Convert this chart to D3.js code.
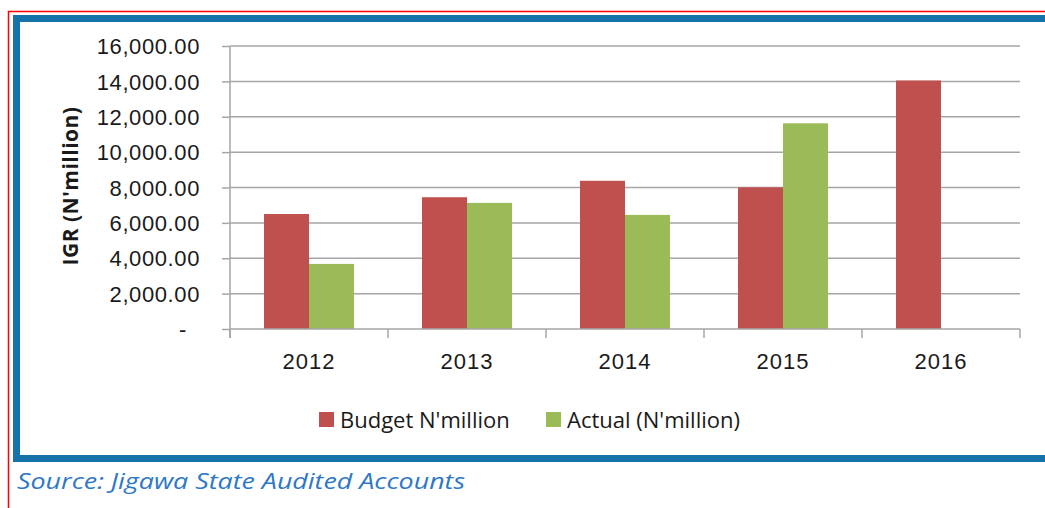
<!DOCTYPE html>
<html>
<head>
<meta charset="utf-8">
<script src="https://cdn.jsdelivr.net/npm/d3@7"></script>
<style>
  body { margin: 0; background: #fff; }
  svg { display: block; font-family: "Open Sans", "Noto Sans", sans-serif; }
</style>
</head>
<body>
<div id="chart"></div>
<script>
var years = ['2012', '2013', '2014', '2015', '2016'];
var budget = [6500, 7450, 8380, 8010, 14050];
var actual = [3680, 7130, 6450, 11630, null];
var yTicks = [0, 2000, 4000, 6000, 8000, 10000, 12000, 14000, 16000];
var seriesNames = ["Budget N'million", "Actual (N'million)"];
var colors = ['#c0504d', '#9bbb59'];

var W = 1045, H = 508;
var plot = { left: 230, right: 1020, top: 46, bottom: 329 };

var svg = d3.select('#chart').append('svg')
  .attr('width', W)
  .attr('height', H);

// outer red page line and blue frame
svg.append('path')
  .attr('d', 'M8.5,' + H + 'V11.5H' + W)
  .attr('fill', 'none')
  .attr('stroke', '#ff0000')
  .attr('stroke-width', 1.5);

svg.append('rect')
  .attr('x', 16.5)
  .attr('y', 18.5)
  .attr('width', W + 20)
  .attr('height', 440)
  .attr('fill', '#fff')
  .attr('stroke', '#1672a8')
  .attr('stroke-width', 7);

var x0 = d3.scaleBand()
  .domain(years)
  .range([plot.left, plot.right]);

var groupW = 90;
var x1 = d3.scaleBand()
  .domain([0, 1])
  .range([0, groupW]);

var y = d3.scaleLinear()
  .domain([0, 16000])
  .range([plot.bottom, plot.top]);

// gridlines
svg.append('g')
  .selectAll('line')
  .data(yTicks.slice(1))
  .enter().append('line')
  .attr('x1', plot.left)
  .attr('x2', plot.right)
  .attr('y1', function (d) { return y(d); })
  .attr('y2', function (d) { return y(d); })
  .attr('stroke', '#a6a6a6')
  .attr('stroke-width', 1.5);

// bars
var rows = years.map(function (yr, i) { return { year: yr, vals: [budget[i], actual[i]] }; });

var grp = svg.selectAll('.yr')
  .data(rows)
  .enter().append('g')
  .attr('class', 'yr')
  .attr('transform', function (d) {
    return 'translate(' + (x0(d.year) + (x0.bandwidth() - groupW) / 2) + ',0)';
  });

grp.selectAll('rect')
  .data(function (d) {
    return d.vals.map(function (v, k) { return { k: k, v: v }; })
      .filter(function (o) { return o.v != null; });
  })
  .enter().append('rect')
  .attr('x', function (d) { return x1(d.k); })
  .attr('width', x1.bandwidth())
  .attr('y', function (d) { return y(d.v); })
  .attr('height', function (d) { return plot.bottom - y(d.v); })
  .attr('fill', function (d) { return colors[d.k]; });

// y axis
var yAxis = d3.axisLeft(y)
  .tickValues(yTicks)
  .tickSize(8)
  .tickPadding(22)
  .tickFormat(function (d) { return d === 0 ? '-' : d3.format(',.2f')(d); });

var gy = svg.append('g')
  .attr('transform', 'translate(' + plot.left + ',0)')
  .call(yAxis);
gy.select('.domain').remove();
gy.append('line')
  .attr('y1', plot.top)
  .attr('y2', plot.bottom + 9)
  .attr('stroke', '#a6a6a6')
  .attr('stroke-width', 1.5);
gy.selectAll('.tick line').attr('stroke', '#a6a6a6').attr('stroke-width', 1.5);
gy.selectAll('.tick text')
  .attr('fill', '#1a1a1a')
  .style('font-size', '22px')
  .style('letter-spacing', '0.6px')
  .attr('dy', '0.35em');
gy.selectAll('.tick text')
  .filter(function (d) { return d === 0; })
  .attr('x', -43);

// x axis
var xAxis = d3.axisBottom(x0)
  .tickSize(0)
  .tickPadding(24);

var gx = svg.append('g')
  .attr('transform', 'translate(0,' + plot.bottom + ')')
  .call(xAxis);
gx.select('.domain')
  .attr('stroke', '#a6a6a6')
  .attr('stroke-width', 1.5)
  .attr('d', 'M' + plot.left + ',0H' + plot.right);
gx.selectAll('.tick text')
  .attr('fill', '#1a1a1a')
  .style('font-size', '22px')
  .style('letter-spacing', '1px');

gx.append('g')
  .selectAll('line')
  .data(years.concat(['end']))
  .enter().append('line')
  .attr('x1', function (d) { return d === 'end' ? plot.right : x0(d); })
  .attr('x2', function (d) { return d === 'end' ? plot.right : x0(d); })
  .attr('y1', 0)
  .attr('y2', 9)
  .attr('stroke', '#a6a6a6')
  .attr('stroke-width', 1.5);

// y title
svg.append('text')
  .attr('transform', 'translate(78,186) rotate(-90)')
  .attr('text-anchor', 'middle')
  .style('font-size', '21px')
  .style('font-weight', 'bold')
  .style('letter-spacing', '0.5px')
  .attr('fill', '#1a1a1a')
  .text("IGR (N'million)");

// legend
var legX = [319, 546];
var leg = svg.selectAll('.leg')
  .data(seriesNames)
  .enter().append('g')
  .attr('class', 'leg')
  .attr('transform', function (d, i) { return 'translate(' + legX[i] + ',412)'; });

leg.append('rect')
  .attr('width', 15)
  .attr('height', 15)
  .attr('fill', function (d, i) { return colors[i]; });

leg.append('text')
  .attr('x', 21)
  .attr('y', 8)
  .attr('dy', '0.35em')
  .style('font-size', '22px')
  .attr('fill', '#1a1a1a')
  .text(function (d) { return d; });

// source note
svg.append('text')
  .attr('transform', 'translate(17,489) scale(1.22,1)')
  .style('font-size', '22px')
  .style('font-style', 'italic')
  .attr('fill', '#2e78c6')
  .text('Source: Jigawa State Audited Accounts');
</script>
</body>
</html>
